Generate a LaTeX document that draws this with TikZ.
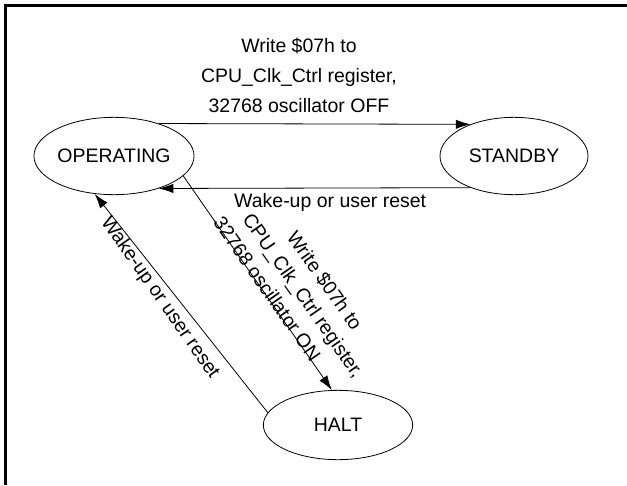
\documentclass[tikz,border=0pt]{standalone}
\usepackage{fontspec}
\setmainfont{Liberation Sans}
\usetikzlibrary{shapes.geometric,arrows.meta}
\begin{document}
\begin{tikzpicture}[x=0.75pt,y=-0.75pt,
    state/.style={draw,ellipse,line width=0.6pt,inner sep=0pt,
      minimum width=111pt,minimum height=58pt,font=\fontsize{14.6}{20}\selectfont},
    trans/.style={line width=0.6pt,-{Latex[length=11pt,width=7pt]}},
    lbl/.style={font=\fontsize{14.6}{22.5}\selectfont,align=center,inner sep=0pt}]
  \useasboundingbox (0,0) rectangle (627,485);
  % frame
  \draw[line width=2.3pt] (5.5,485) -- (5.5,5.5) -- (627,5.5);
  % states
  \node[state] (op) at (114,156) {OPERATING};
  \node[state] (sb) at (514,156) {STANDBY};
  \node[state,minimum height=52pt,minimum width=112pt] (halt) at (338,425) {HALT};
  % transitions
  \draw[trans] (op.36) -- node[lbl,above=8pt,pos=0.45]
    {Write \$07h to\\CPU\_Clk\_Ctrl register,\\32768 oscillator OFF} (sb.144);
  \draw[trans] (sb.216) -- node[lbl,below=4pt,pos=0.45] {Wake-up or user reset} (op.324);
  \draw[trans] (op.344) -- node[lbl,rotate=-55,above=-2pt,pos=0.64,
      font=\fontsize{14.6}{19.5}\selectfont]
    {Write \$07h to\\CPU\_Clk\_Ctrl register,\\32768 oscillator ON\hspace*{2.7em}} (halt.100);
  \draw[trans] (halt.170) -- node[lbl,rotate=-55,below=3pt,pos=0.56] {Wake-up or user reset} (op.243);
\end{tikzpicture}
\end{document}
